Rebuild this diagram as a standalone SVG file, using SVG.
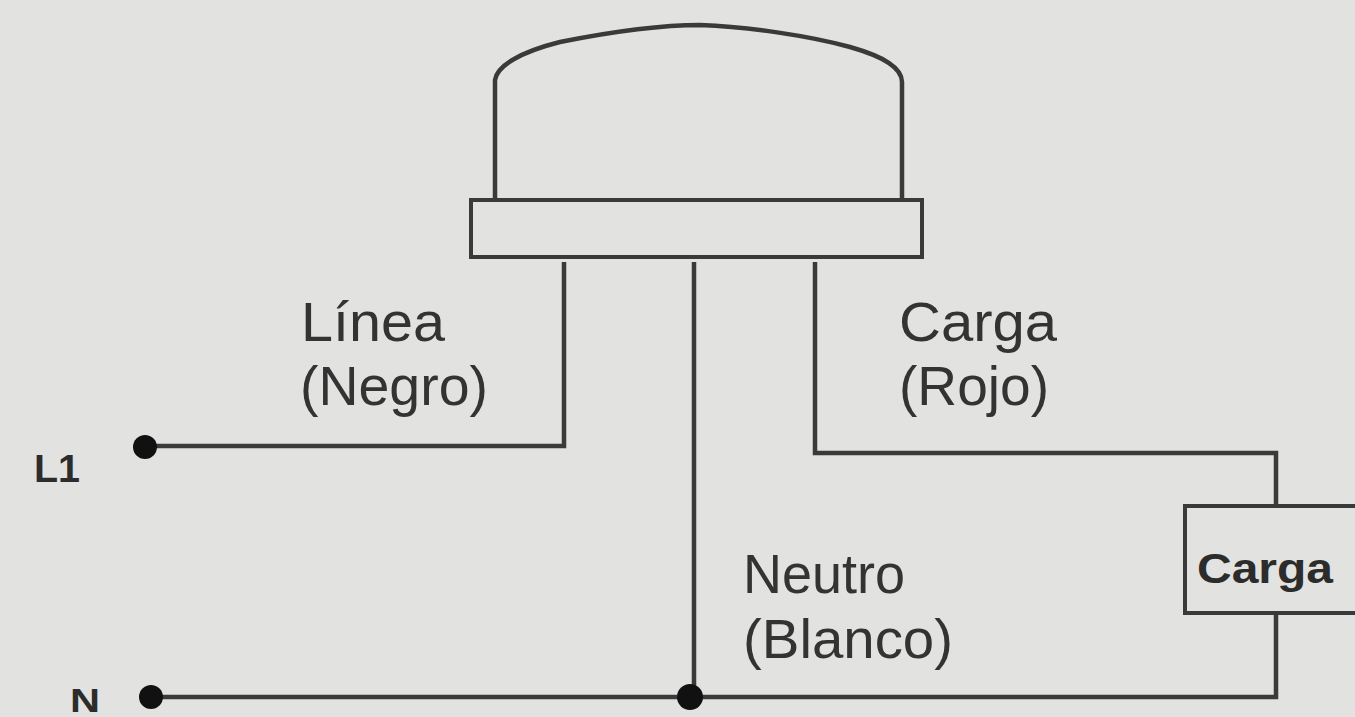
<svg xmlns="http://www.w3.org/2000/svg" width="1355" height="717" viewBox="0 0 1355 717">
<style>
.w{fill:none;stroke:#3a3a3a;stroke-width:4.5}
.b{fill:#e2e2e0;stroke:#3a3a3a;stroke-width:4}
.t{font-family:"Liberation Sans",Arial,sans-serif;font-size:56px;fill:#333}
.l{font-family:"Liberation Sans",Arial,sans-serif;font-size:38px;font-weight:bold;fill:#2c2c2c}
.d{fill:#111}
</style>
<rect width="1355" height="717" fill="#e2e2e0"/>
<g id="connectors">
<path class="w" d="M145 446H564V262"/>
<path class="w" d="M694 262V697"/>
<path class="w" d="M815 262V453H1276V506"/>
<path class="w" d="M151 697H1276V612"/>
</g>
<g id="sensor">
<path class="w" d="M495 198V80C497 66 520 52 560 42C610 32 660 25 700 25C750 27 810 36 850 47C885 57 902 68 902 82V198"/>
<rect class="b" x="471" y="200" width="451" height="57"/>
</g>
<g id="l1"><circle class="d" cx="145" cy="447" r="12"/><text class="l" x="34" y="482" textLength="46" lengthAdjust="spacingAndGlyphs">L1</text></g>
<g id="n"><circle class="d" cx="151" cy="697" r="12"/><text class="l" x="70" y="712" style="font-size:34px" textLength="30" lengthAdjust="spacingAndGlyphs">N</text></g>
<g id="junction"><circle class="d" cx="690" cy="697" r="13"/></g>
<g id="carga-box"><rect class="b" x="1185" y="506" width="175" height="107"/><text class="l" x="1197" y="583" style="font-size:42px" textLength="136" lengthAdjust="spacingAndGlyphs">Carga</text></g>
<g id="linea-label"><text class="t" x="301" y="341" textLength="144" lengthAdjust="spacingAndGlyphs">Línea</text><text class="t" x="300" y="405" textLength="188" lengthAdjust="spacingAndGlyphs">(Negro)</text></g>
<g id="carga-label"><text class="t" x="899" y="341" textLength="158" lengthAdjust="spacingAndGlyphs">Carga</text><text class="t" x="899" y="405" textLength="150" lengthAdjust="spacingAndGlyphs">(Rojo)</text></g>
<g id="neutro-label"><text class="t" x="743" y="593" textLength="162" lengthAdjust="spacingAndGlyphs">Neutro</text><text class="t" x="743" y="658" textLength="210" lengthAdjust="spacingAndGlyphs">(Blanco)</text></g>
</svg>
